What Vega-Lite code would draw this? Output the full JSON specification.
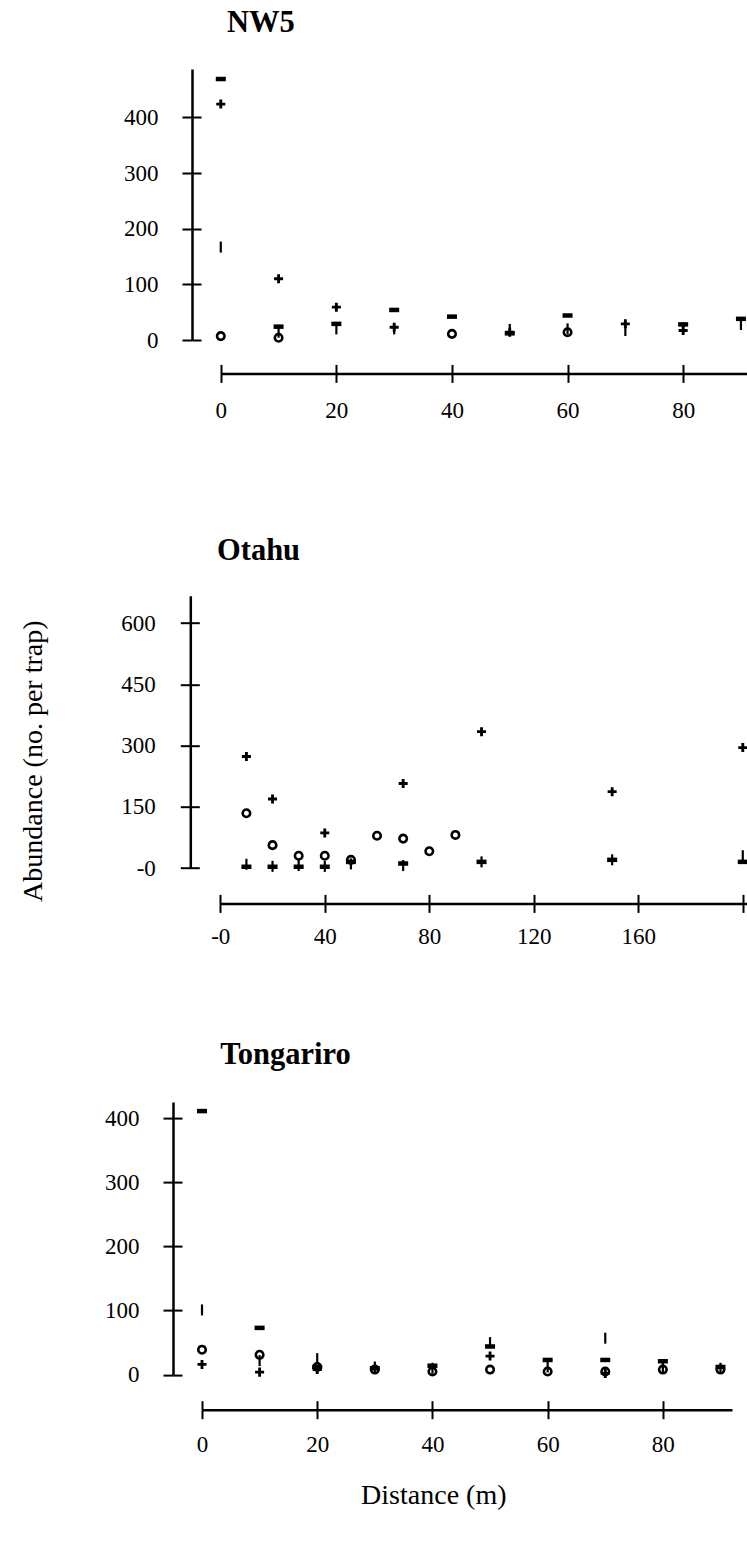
{
  "$schema": "https://vega.github.io/schema/vega-lite/v6.json",
  "background": "white",
  "padding": {"left": 19, "top": 7, "right": 0, "bottom": 5},
  "config": {
    "font": "Liberation Serif",
    "view": {"stroke": null},
    "axis": {"labelFont": "Liberation Serif", "titleFont": "Liberation Serif", "labelColor": "black", "titleColor": "black", "tickColor": "black", "domainColor": "black", "grid": false, "titleFontWeight": "normal"}
  },
  "datasets": {
    "nw5": [
      {"distance": 0, "abundance": 469, "group": "C"}, {"distance": 0, "abundance": 424, "group": "B"}, {"distance": 0, "abundance": 167, "group": "D"}, {"distance": 0, "abundance": 7, "group": "A"},
      {"distance": 10, "abundance": 110, "group": "B"}, {"distance": 10, "abundance": 24, "group": "C"}, {"distance": 10, "abundance": 14, "group": "D"}, {"distance": 10, "abundance": 4, "group": "A"},
      {"distance": 20, "abundance": 59, "group": "B"}, {"distance": 20, "abundance": 29, "group": "C"}, {"distance": 20, "abundance": 20, "group": "D"},
      {"distance": 30, "abundance": 54, "group": "C"}, {"distance": 30, "abundance": 23, "group": "B"}, {"distance": 30, "abundance": 20, "group": "D"},
      {"distance": 40, "abundance": 42, "group": "C"}, {"distance": 40, "abundance": 11, "group": "A"},
      {"distance": 50, "abundance": 14, "group": "B"}, {"distance": 50, "abundance": 12, "group": "C"}, {"distance": 50, "abundance": 19, "group": "D"},
      {"distance": 60, "abundance": 44, "group": "C"}, {"distance": 60, "abundance": 14, "group": "A"}, {"distance": 60, "abundance": 20, "group": "D"},
      {"distance": 70, "abundance": 29, "group": "B"}, {"distance": 70, "abundance": 17, "group": "D"},
      {"distance": 80, "abundance": 28, "group": "C"}, {"distance": 80, "abundance": 17, "group": "B"}, {"distance": 80, "abundance": 22, "group": "D"},
      {"distance": 90, "abundance": 38, "group": "C"}, {"distance": 90, "abundance": 28, "group": "D"}
    ],
    "otahu": [
      {"distance": 10, "abundance": 273, "group": "B"}, {"distance": 10, "abundance": 134, "group": "A"}, {"distance": 10, "abundance": 3, "group": "C"}, {"distance": 10, "abundance": 9, "group": "D"},
      {"distance": 20, "abundance": 169, "group": "B"}, {"distance": 20, "abundance": 56, "group": "A"}, {"distance": 20, "abundance": 3, "group": "C"}, {"distance": 20, "abundance": 4, "group": "D"},
      {"distance": 30, "abundance": 30, "group": "A"}, {"distance": 30, "abundance": 3, "group": "C"}, {"distance": 30, "abundance": 6, "group": "D"},
      {"distance": 40, "abundance": 86, "group": "B"}, {"distance": 40, "abundance": 30, "group": "A"}, {"distance": 40, "abundance": 3, "group": "C"}, {"distance": 40, "abundance": 4, "group": "D"},
      {"distance": 50, "abundance": 20, "group": "A"}, {"distance": 50, "abundance": 15, "group": "C"}, {"distance": 50, "abundance": 10, "group": "D"},
      {"distance": 60, "abundance": 79, "group": "A"},
      {"distance": 70, "abundance": 207, "group": "B"}, {"distance": 70, "abundance": 72, "group": "A"}, {"distance": 70, "abundance": 11, "group": "C"}, {"distance": 70, "abundance": 6, "group": "D"},
      {"distance": 80, "abundance": 41, "group": "A"},
      {"distance": 90, "abundance": 81, "group": "A"},
      {"distance": 100, "abundance": 334, "group": "B"}, {"distance": 100, "abundance": 15, "group": "C"}, {"distance": 100, "abundance": 15, "group": "D"},
      {"distance": 150, "abundance": 187, "group": "B"}, {"distance": 150, "abundance": 20, "group": "C"}, {"distance": 150, "abundance": 20, "group": "D"},
      {"distance": 200, "abundance": 295, "group": "B"}, {"distance": 200, "abundance": 15, "group": "C"}, {"distance": 200, "abundance": 30, "group": "D"}
    ],
    "tongariro": [
      {"distance": 0, "abundance": 411, "group": "C"}, {"distance": 0, "abundance": 101, "group": "D"}, {"distance": 0, "abundance": 39, "group": "A"}, {"distance": 0, "abundance": 16, "group": "B"},
      {"distance": 10, "abundance": 73, "group": "C"}, {"distance": 10, "abundance": 31, "group": "A"}, {"distance": 10, "abundance": 4, "group": "B"}, {"distance": 10, "abundance": 22, "group": "D"},
      {"distance": 20, "abundance": 12, "group": "A"}, {"distance": 20, "abundance": 12, "group": "C"}, {"distance": 20, "abundance": 8, "group": "B"}, {"distance": 20, "abundance": 25, "group": "D"},
      {"distance": 30, "abundance": 8, "group": "A"}, {"distance": 30, "abundance": 10, "group": "C"}, {"distance": 30, "abundance": 12, "group": "D"},
      {"distance": 40, "abundance": 5, "group": "A"}, {"distance": 40, "abundance": 14, "group": "C"}, {"distance": 40, "abundance": 10, "group": "D"},
      {"distance": 50, "abundance": 50, "group": "D"}, {"distance": 50, "abundance": 44, "group": "C"}, {"distance": 50, "abundance": 29, "group": "B"}, {"distance": 50, "abundance": 8, "group": "A"},
      {"distance": 60, "abundance": 23, "group": "C"}, {"distance": 60, "abundance": 5, "group": "A"}, {"distance": 60, "abundance": 12, "group": "D"},
      {"distance": 70, "abundance": 57, "group": "D"}, {"distance": 70, "abundance": 23, "group": "C"}, {"distance": 70, "abundance": 5, "group": "A"}, {"distance": 70, "abundance": 2, "group": "B"},
      {"distance": 80, "abundance": 21, "group": "C"}, {"distance": 80, "abundance": 8, "group": "A"}, {"distance": 80, "abundance": 12, "group": "D"},
      {"distance": 90, "abundance": 12, "group": "C"}, {"distance": 90, "abundance": 8, "group": "A"}, {"distance": 90, "abundance": 10, "group": "D"}
    ]
  },
  "bounds": "flush",
  "spacing": 255.7,
  "vconcat": [
    {
      "width": 545.3, "height": 271,
      "title": {"text": "NW5", "anchor": "start", "frame": "group", "dx": 25, "offset": 6.6, "baseline": "alphabetic", "fontSize": 30.5, "fontWeight": "bold", "font": "Liberation Serif", "color": "black"},
      "data": {"name": "nw5"},
      "layer": [
        {
          "mark": {"type": "point", "shape": "circle", "filled": false, "size": 56, "strokeWidth": 2.6, "color": "black", "opacity": 1},
          "transform": [{"filter": "datum.group == 'A'"}],
          "encoding": {
            "x": {"field": "distance", "type": "quantitative", "scale": {"domain": [-3.25, 91.1], "nice": false, "zero": false},
              "axis": {"orient": "bottom", "values": [0, 20, 40, 60, 80], "offset": 33.4, "tickSize": 9, "tickWidth": 2, "domainWidth": 2.5, "domainDash": [0, 18.8, 2000, 0], "labelFontSize": 23, "labelPadding": 17, "labelFlush": false, "labelOverlap": false, "title": null}},
            "y": {"field": "abundance", "type": "quantitative", "scale": {"domain": [0, 487], "nice": false},
              "axis": {"orient": "left", "values": [0, 100, 200, 300, 400], "offset": 10, "tickSize": 10, "tickWidth": 2, "domainWidth": 2.5, "labelFontSize": 23, "labelPadding": 24, "labelFlush": false, "labelOverlap": false, "title": null}}
          }
        },
        {
          "mark": {"type": "point", "filled": true, "size": 121, "color": "black", "opacity": 1},
          "transform": [{"filter": "datum.group != 'A'"}],
          "encoding": {
            "x": {"field": "distance", "type": "quantitative", "scale": {"domain": [-3.25, 91.1], "nice": false, "zero": false},
              "axis": {"orient": "bottom", "values": [0, 20, 40, 60, 80], "offset": 33.4, "tickSize": -9, "tickWidth": 2, "domain": false, "labels": false, "title": null}},
            "y": {"field": "abundance", "type": "quantitative", "scale": {"domain": [0, 487], "nice": false},
              "axis": {"orient": "left", "values": [0, 100, 200, 300, 400], "offset": 10, "tickSize": -9, "tickWidth": 2, "domain": false, "labels": false, "title": null}},
            "shape": {"field": "group", "type": "nominal", "legend": null,
              "scale": {"domain": ["B", "C", "D"], "range": ["M-0.82,-0.26H-0.26V-0.82H0.26V-0.26H0.82V0.26H0.26V0.82H-0.26V0.26H-0.82Z", "M-0.91,-0.41H0.91V0.41H-0.91Z", "M-0.2,-1H0.2V1H-0.2Z"]}}
          }
        }
      ],
      "resolve": {"axis": {"x": "independent", "y": "independent"}}
    },
    {
      "bounds": "flush",
      "spacing": 233.4,
      "vconcat": [
        {
          "width": 544.7, "height": 272.3,
          "title": {"text": "Otahu", "anchor": "start", "frame": "group", "dx": 15, "offset": 5, "baseline": "alphabetic", "fontSize": 30.5, "fontWeight": "bold", "font": "Liberation Serif", "color": "black"},
          "data": {"name": "otahu"},
          "layer": [
            {
              "mark": {"type": "point", "shape": "circle", "filled": false, "size": 56, "strokeWidth": 2.6, "color": "black", "opacity": 1},
              "transform": [{"filter": "datum.group == 'A'"}],
              "encoding": {
                "x": {"field": "distance", "type": "quantitative", "scale": {"domain": [-7, 201.5], "nice": false, "zero": false},
                  "axis": {"orient": "bottom", "values": [0, 40, 80, 120, 160, 200], "labelExpr": "datum.value == 0 ? '-0' : (datum.value == 200 ? '' : datum.label)", "offset": 35.4, "tickSize": 9, "tickWidth": 2, "domainWidth": 2.5, "domainDash": [0, 18.3, 2000, 0], "labelFontSize": 23, "labelPadding": 13, "labelFlush": false, "labelOverlap": false, "title": null}},
                "y": {"field": "abundance", "type": "quantitative", "scale": {"domain": [0, 667], "nice": false},
                  "axis": {"orient": "left", "values": [0, 150, 300, 450, 600], "labelExpr": "datum.value == 0 ? '-0' : datum.label", "offset": 11.7, "tickSize": 10, "tickWidth": 2, "domainWidth": 2.5, "labelFontSize": 23, "labelPadding": 25, "labelFlush": false, "labelOverlap": false,
                    "title": "Abundance (no. per trap)", "titleFontSize": 28, "titleAngle": -90, "titleBaseline": "middle", "titleAlign": "center", "titleX": -157, "titleY": 165}}
              }
            },
            {
              "mark": {"type": "point", "filled": true, "size": 121, "color": "black", "opacity": 1},
              "transform": [{"filter": "datum.group != 'A'"}],
              "encoding": {
                "x": {"field": "distance", "type": "quantitative", "scale": {"domain": [-7, 201.5], "nice": false, "zero": false},
                  "axis": {"orient": "bottom", "values": [0, 40, 80, 120, 160, 200], "offset": 35.4, "tickSize": -9, "tickWidth": 2, "domain": false, "labels": false, "title": null}},
                "y": {"field": "abundance", "type": "quantitative", "scale": {"domain": [0, 667], "nice": false},
                  "axis": {"orient": "left", "values": [0, 150, 300, 450, 600], "offset": 11.7, "tickSize": -9, "tickWidth": 2, "domain": false, "labels": false, "title": null}},
                "shape": {"field": "group", "type": "nominal", "legend": null,
                  "scale": {"domain": ["B", "C", "D"], "range": ["M-0.82,-0.26H-0.26V-0.82H0.26V-0.26H0.82V0.26H0.26V0.82H-0.26V0.26H-0.82Z", "M-0.91,-0.41H0.91V0.41H-0.91Z", "M-0.2,-1H0.2V1H-0.2Z"]}}
              }
            }
          ],
          "resolve": {"axis": {"x": "independent", "y": "independent"}}
        },
        {
          "width": 530, "height": 272.6,
          "title": {"text": "Tongariro", "anchor": "start", "frame": "group", "dx": 18.3, "offset": 7.7, "baseline": "alphabetic", "fontSize": 30.5, "fontWeight": "bold", "font": "Liberation Serif", "color": "black"},
          "data": {"name": "tongariro"},
          "layer": [
            {
              "mark": {"type": "point", "shape": "circle", "filled": false, "size": 56, "strokeWidth": 2.6, "color": "black", "opacity": 1},
              "transform": [{"filter": "datum.group == 'A'"}],
              "encoding": {
                "x": {"field": "distance", "type": "quantitative", "scale": {"domain": [0, 92], "nice": false, "zero": false},
                  "axis": {"orient": "bottom", "values": [0, 20, 40, 60, 80], "offset": 35, "tickSize": 9, "tickWidth": 2, "domainWidth": 2.5, "labelFontSize": 23, "labelPadding": 15, "labelFlush": false, "labelOverlap": false,
                    "title": "Distance (m)", "titleFontSize": 28, "titleBaseline": "middle", "titleAlign": "center", "titleX": 231.3, "titleY": 85.7}},
                "y": {"field": "abundance", "type": "quantitative", "scale": {"domain": [0, 425], "nice": false},
                  "axis": {"orient": "left", "values": [0, 100, 200, 300, 400], "offset": 29, "tickSize": 10, "tickWidth": 2, "domainWidth": 2.5, "labelFontSize": 23, "labelPadding": 24, "labelFlush": false, "labelOverlap": false, "title": null}}
              }
            },
            {
              "mark": {"type": "point", "filled": true, "size": 121, "color": "black", "opacity": 1},
              "transform": [{"filter": "datum.group != 'A'"}],
              "encoding": {
                "x": {"field": "distance", "type": "quantitative", "scale": {"domain": [0, 92], "nice": false, "zero": false},
                  "axis": {"orient": "bottom", "values": [0, 20, 40, 60, 80], "offset": 35, "tickSize": -9, "tickWidth": 2, "domain": false, "labels": false, "title": null}},
                "y": {"field": "abundance", "type": "quantitative", "scale": {"domain": [0, 425], "nice": false},
                  "axis": {"orient": "left", "values": [0, 100, 200, 300, 400], "offset": 29, "tickSize": -9, "tickWidth": 2, "domain": false, "labels": false, "title": null}},
                "shape": {"field": "group", "type": "nominal", "legend": null,
                  "scale": {"domain": ["B", "C", "D"], "range": ["M-0.82,-0.26H-0.26V-0.82H0.26V-0.26H0.82V0.26H0.26V0.82H-0.26V0.26H-0.82Z", "M-0.91,-0.41H0.91V0.41H-0.91Z", "M-0.2,-1H0.2V1H-0.2Z"]}}
              }
            }
          ],
          "resolve": {"axis": {"x": "independent", "y": "independent"}}
        }
      ]
    }
  ]
}
